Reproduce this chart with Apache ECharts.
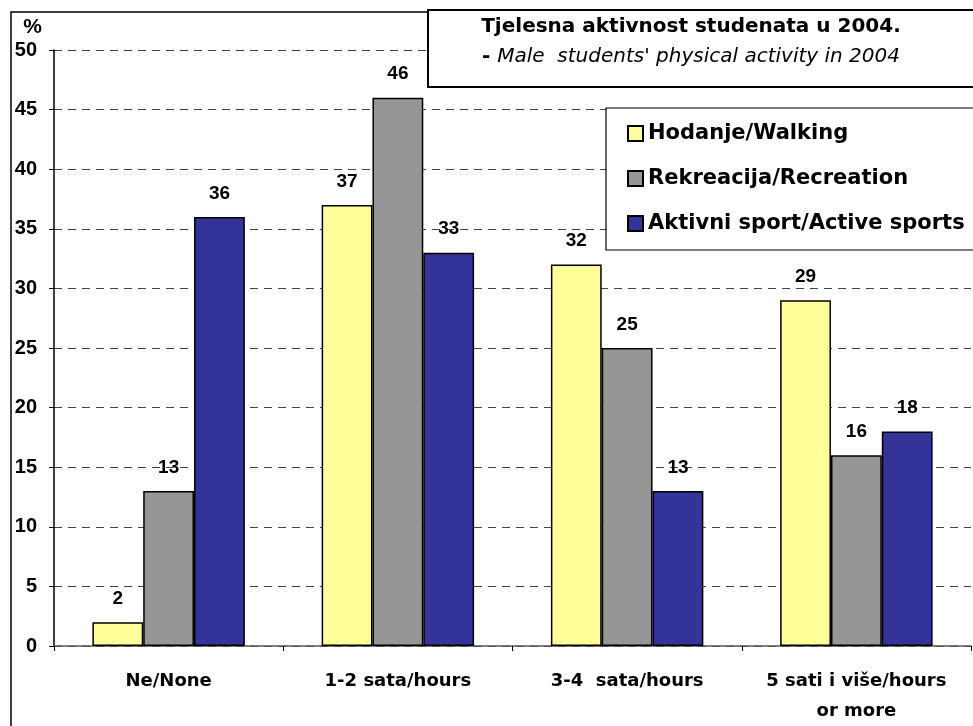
<!DOCTYPE html>
<html><head><meta charset="utf-8">
<script src="https://cdn.jsdelivr.net/npm/echarts@6/dist/echarts.min.js"></script>
<style>html,body{margin:0;padding:0;background:#fff}#c{width:973px;height:726px}</style>
</head><body><div id="c"></div>
<script>
const categories = ['Ne/None', '1-2 sata/hours', '3-4  sata/hours', '5 sati i više/hours\nor more'];
const seriesNames = ['Hodanje/Walking', 'Rekreacija/Recreation', 'Aktivni sport/Active sports'];
const walking = [2, 37, 32, 29];
const recreation = [13, 46, 25, 16];
const activeSports = [36, 33, 13, 18];
const yTicks = [0, 5, 10, 15, 20, 25, 30, 35, 40, 45, 50];
const colors = ['#FFFF99', '#969696', '#333399'];
const FONT = '"Liberation Sans", Arial, sans-serif';
const WIDE = '"DejaVu Sans", "Liberation Sans", Arial, sans-serif';

const chart = echarts.init(document.getElementById('c'), null, {renderer: 'canvas'});
const mk = (name, data, color) => ({
  name, type: 'bar', data, barGap: '0%', barCategoryGap: '33.5%',
  itemStyle: {color, borderColor: '#000', borderWidth: 1.5},
  label: {show: true, position: 'top', distance: 14, color: '#000', fontWeight: 'bold', fontSize: 19, fontFamily: FONT},
  emphasis: {disabled: true}
});
chart.setOption({
  animation: false,
  backgroundColor: '#fff',
  textStyle: {fontFamily: FONT},
  graphic: [
    {type: 'rect', shape: {x: 11, y: 12, width: 1000, height: 800}, style: {fill: 'none', stroke: '#000', lineWidth: 1.5}, z: -10},
    {type: 'rect', shape: {x: 428, y: 10, width: 600, height: 77}, style: {fill: '#fff', stroke: '#000', lineWidth: 2}, z: 50},
    {type: 'rect', shape: {x: 606, y: 108, width: 400, height: 142}, style: {fill: '#fff', stroke: '#000', lineWidth: 1.2}, z: 50}
  ],
  title: {
    text: 'Tjelesna aktivnost studenata u 2004.',
    subtext: '{b|- }{i|Male  students\' physical activity in 2004}',
    left: 686, top: 12, textAlign: 'center', itemGap: 10, z: 60,
    textStyle: {fontSize: 20, fontWeight: 'bold', color: '#000', fontFamily: WIDE},
    subtextStyle: {fontSize: 20, color: '#000', fontFamily: WIDE,
      rich: {b: {fontSize: 20, fontWeight: 'bold', color: '#000', fontFamily: WIDE},
             i: {fontSize: 20, fontStyle: 'italic', color: '#000', fontFamily: WIDE}}}
  },
  legend: {
    orient: 'vertical', left: 622, top: 118, itemWidth: 15, itemHeight: 15, itemGap: 24, z: 60,
    icon: 'rect',
    textStyle: {fontSize: 21, fontWeight: 'bold', color: '#000', fontFamily: WIDE},
    data: seriesNames
  },
  grid: {left: 54, right: 2, top: 50, bottom: 80, containLabel: false},
  xAxis: {
    type: 'category', data: categories,
    axisLine: {lineStyle: {color: '#555', width: 1.5}},
    axisTick: {show: true, length: 5, lineStyle: {color: '#000'}},
    axisLabel: {interval: 0, hideOverlap: false, color: '#000', fontWeight: 'bold', fontSize: 18, margin: 20, lineHeight: 30, fontFamily: WIDE}
  },
  yAxis: {
    type: 'value', min: yTicks[0], max: yTicks[yTicks.length - 1], interval: 5,
    name: '%', nameLocation: 'end', nameGap: 12,
    nameTextStyle: {color: '#000', fontWeight: 'bold', fontSize: 21, align: 'right', padding: [0, 12, 0, 0], fontFamily: FONT},
    axisLine: {show: true, lineStyle: {color: '#000', width: 1.5}},
    axisTick: {show: true, length: 5, lineStyle: {color: '#000'}},
    axisLabel: {color: '#000', fontWeight: 'bold', fontSize: 20, margin: 17, fontFamily: FONT},
    splitLine: {show: true, lineStyle: {color: '#444', type: [8, 6], width: 1}}
  },
  series: [
    mk(seriesNames[0], walking, colors[0]),
    mk(seriesNames[1], recreation, colors[1]),
    mk(seriesNames[2], activeSports, colors[2])
  ]
});
</script></body></html>
